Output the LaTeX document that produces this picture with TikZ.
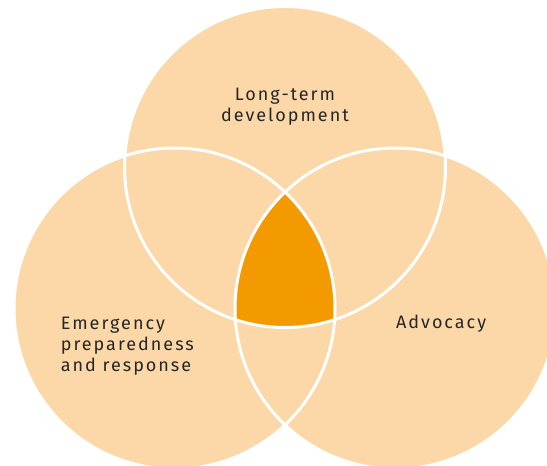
\documentclass[tikz,border=0pt]{standalone}
\usepackage{fontspec}
\setmainfont{Fira Sans}[LetterSpace=11]
\definecolor{peach}{RGB}{252,216,168}
\definecolor{core}{RGB}{243,154,0}
\definecolor{ink}{RGB}{38,38,38}
\tikzset{
  label/.style={font=\fontsize{18pt}{21pt}\selectfont, text=ink, inner sep=0pt},
  ring/.style={draw=white, line width=3pt}
}
\begin{document}
\begin{tikzpicture}[x=1pt,y=-1pt]
\useasboundingbox (0,0) rectangle (547,466);
\clip (0,0) rectangle (547,466);
\coordinate (T) at (285,167);
\coordinate (L) at (174.5,308.5);
\coordinate (R) at (395.5,308.5);
\def\rad{160.5pt}
\fill[peach] (T) circle[radius=\rad];
\fill[peach] (L) circle[radius=\rad];
\fill[peach] (R) circle[radius=\rad];
\begin{scope}
  \clip (T) circle[radius=\rad];
  \clip (L) circle[radius=\rad];
  \fill[core] (R) circle[radius=\rad];
\end{scope}
\draw[ring] (T) circle[radius=\rad];
\draw[ring] (L) circle[radius=\rad];
\draw[ring] (R) circle[radius=\rad];
\node[label, anchor=base, align=center] (lt) at (285,121.7) {Long-term\\development};
\node[label, anchor=base west, align=left] (em) at (60.7,371) {Emergency\\preparedness\\and response};
\node[label, anchor=base west] (ad) at (396,328.3) {Advocacy};
\end{tikzpicture}
\end{document}
